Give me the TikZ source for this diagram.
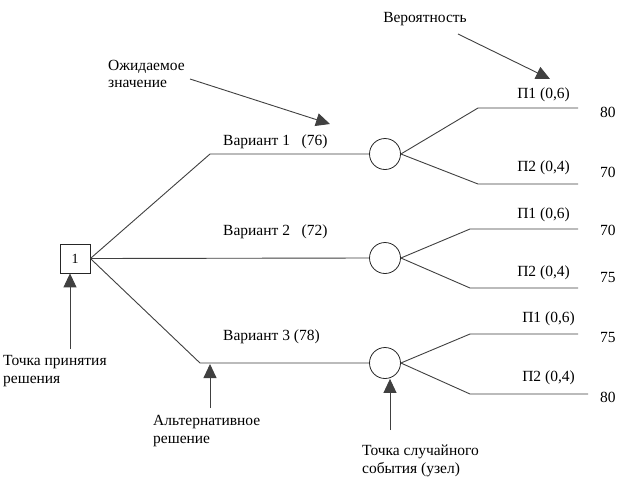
\documentclass[tikz,border=0pt]{standalone}
\usepackage{fontspec}
\setmainfont{Liberation Serif}
\usetikzlibrary{arrows.meta}
\begin{document}
\begin{tikzpicture}[x=1pt,y=-1pt,
  lbl/.style={font=\fontsize{15.5}{17.5}\selectfont, inner sep=0pt, align=left},
  ln/.style={draw=black!75, line width=0.9pt},
  pt/.style={-{Triangle[width=13pt,length=14pt]}, draw=black!75, line width=0.9pt},
  chance/.style={circle, draw=black!85, line width=0.8pt, minimum size=31pt, inner sep=0pt},
  decision/.style={rectangle, draw=black!85, line width=0.8pt, minimum width=30pt, minimum height=29pt, inner sep=0pt, font=\fontsize{14}{15}\selectfont}]
\useasboundingbox (0,0) rectangle (620,480);
\fill[white] (0,0) rectangle (620,480);
% nodes
\node[decision] (d) at (75,258.5) {1};
\node[chance] (c1) at (385,154) {};
\node[chance] (c2) at (385,258) {};
\node[chance] (c3) at (385,363) {};
% corners
\coordinate (k1) at (210,154);
\coordinate (k3) at (200,363);
\coordinate (a1) at (478,108); \coordinate (e1) at (578,108);
\coordinate (b1) at (478,184); \coordinate (f1) at (578,184);
\coordinate (a2) at (470,229); \coordinate (e2) at (578,229);
\coordinate (b2) at (470,288); \coordinate (f2) at (578,288);
\coordinate (a3) at (470,334); \coordinate (e3) at (578,334);
\coordinate (b3) at (470,394); \coordinate (f3) at (588,394);
% tree
\draw[ln] (d.east) -- (k1) -- (c1.west);
\draw[ln] (d.east) -- (c2.west);
\draw[ln] (d.east) -- (k3) -- (c3.west);
\draw[ln] (c1.east) -- (a1) -- (e1);
\draw[ln] (c1.east) -- (b1) -- (f1);
\draw[ln] (c2.east) -- (a2) -- (e2);
\draw[ln] (c2.east) -- (b2) -- (f2);
\draw[ln] (c3.east) -- (a3) -- (e3);
\draw[ln] (c3.east) -- (b3) -- (f3);
% labels
\node[lbl, anchor=west] (v1) at (223,142) {Вариант 1\ \ \ (76)};
\node[lbl, anchor=west] (v2) at (223,232) {Вариант 2\ \ \ (72)};
\node[lbl, anchor=west] (v3) at (223,337) {Вариант 3 (78)};
\node[lbl, anchor=east] (p11) at (570,95) {П1 (0,6)};
\node[lbl, anchor=east] (p12) at (570,168) {П2 (0,4)};
\node[lbl, anchor=east] (p21) at (570,215) {П1 (0,6)};
\node[lbl, anchor=east] (p22) at (570,273) {П2 (0,4)};
\node[lbl, anchor=east] (p31) at (575,319) {П1 (0,6)};
\node[lbl, anchor=east] (p32) at (575,378) {П2 (0,4)};
\node[lbl, anchor=west] (r11) at (600,112) {80};
\node[lbl, anchor=west] (r12) at (600,172) {70};
\node[lbl, anchor=west] (r21) at (600,230) {70};
\node[lbl, anchor=west] (r22) at (600,277) {75};
\node[lbl, anchor=west] (r31) at (600,337) {75};
\node[lbl, anchor=west] (r32) at (600,397) {80};
\node[lbl, anchor=west] (ozh) at (108,74) {Ожидаемое\\значение};
\node[lbl] (ver) at (425,19) {Вероятность};
\node[lbl, anchor=west] (tpr) at (3,371) {Точка принятия\\решения};
\node[lbl, anchor=west] (alt) at (153,431) {Альтернативное\\решение};
\node[lbl, anchor=west] (tse) at (362,461) {Точка случайного\\события (узел)};
% pointer arrows
\coordinate (s1) at (190,79); \coordinate (t1) at (330,124);
\coordinate (s2) at (458,34); \coordinate (t2) at (550,79);
\coordinate (s3) at (70,349);
\coordinate (s4) at (210,408); \coordinate (t4) at (210,364);
\coordinate (s5) at (390,430);
\draw[pt] (s1) -- (t1);
\draw[pt] (s2) -- (t2);
\draw[pt] (s3) -- (d.south -| s3);
\draw[pt] (s4) -- (t4);
\draw[pt] (s5) -- (c3.south -| s5);
\end{tikzpicture}
\end{document}
